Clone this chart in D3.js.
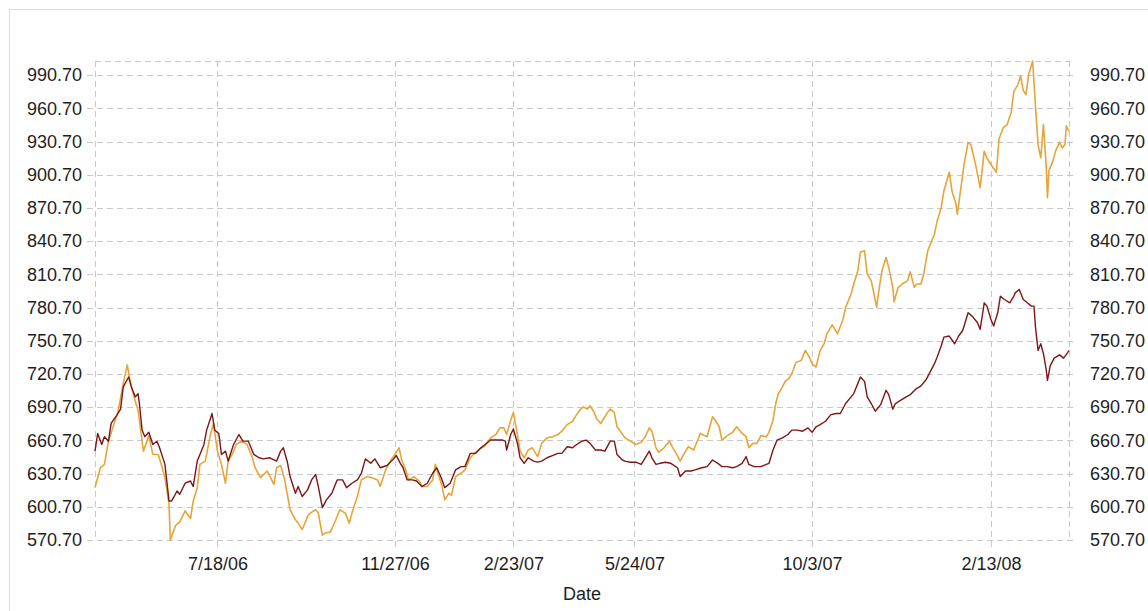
<!DOCTYPE html>
<html>
<head>
<meta charset="utf-8">
<script src="https://d3js.org/d3.v7.min.js"></script>
<style>
  body { margin: 0; background: #fff; }
  svg { display: block; }
</style>
</head>
<body>
<svg></svg>
<script>
// gold series (upper line at the end)
const goldDates = [
  "4/18/06","4/22/06","4/25/06","4/28/06","5/2/06","5/5/06","5/9/06","5/12/06","5/14/06","5/17/06",
  "5/20/06","5/24/06","5/28/06","5/31/06","6/4/06","6/7/06","6/9/06","6/12/06","6/13/06","6/17/06",
  "6/20/06","6/24/06","6/28/06","6/30/06","7/3/06","7/5/06","7/9/06","7/13/06","7/15/06","7/18/06",
  "7/21/06","7/24/06","7/26/06","7/29/06","8/1/06","8/5/06","8/9/06","8/13/06","8/15/06","8/19/06",
  "8/24/06","8/29/06","8/31/06","9/3/06","9/6/06","9/10/06","9/14/06","9/16/06","9/19/06","9/23/06",
  "9/25/06","9/29/06","10/1/06","10/4/06","10/6/06","10/10/06","10/14/06","10/17/06","10/21/06","10/24/06",
  "10/26/06","10/30/06","11/2/06","11/6/06","11/10/06","11/14/06","11/16/06","11/20/06","11/24/06","11/27/06",
  "11/30/06","12/2/06","12/5/06","12/7/06","12/11/06","12/15/06","12/17/06","12/21/06","12/25/06","12/27/06",
  "12/29/06","1/1/07","1/3/07","1/6/07","1/8/07","1/11/07","1/15/07","1/18/07","1/22/07","1/26/07",
  "1/29/07","2/2/07","2/6/07","2/10/07","2/13/07","2/16/07","2/18/07","2/21/07","2/23/07","2/26/07",
  "2/28/07","3/3/07","3/6/07","3/9/07","3/13/07","3/16/07","3/20/07","3/24/07","3/28/07","3/31/07",
  "4/4/07","4/8/07","4/11/07","4/14/07","4/16/07","4/19/07","4/21/07","4/24/07","4/26/07","4/29/07",
  "5/1/07","5/4/07","5/6/07","5/9/07","5/11/07","5/14/07","5/17/07","5/21/07","5/25/07","5/29/07",
  "6/1/07","6/4/07","6/6/07","6/9/07","6/11/07","6/15/07","6/19/07","6/21/07","6/24/07","6/27/07",
  "6/30/07","7/3/07","7/7/07","7/10/07","7/12/07","7/17/07","7/21/07","7/23/07","7/26/07","7/28/07",
  "8/1/07","8/5/07","8/8/07","8/12/07","8/15/07","8/17/07","8/20/07","8/23/07","8/26/07","8/30/07",
  "9/1/07","9/4/07","9/6/07","9/8/07","9/11/07","9/13/07","9/16/07","9/18/07","9/21/07","9/25/07",
  "9/28/07","10/1/07","10/3/07","10/6/07","10/9/07","10/12/07","10/14/07","10/18/07","10/22/07","10/26/07",
  "10/28/07","11/1/07","11/3/07","11/6/07","11/8/07","11/11/07","11/13/07","11/16/07","11/18/07","11/20/07",
  "11/22/07","11/24/07","11/27/07","11/29/07","12/2/07","12/3/07","12/6/07","12/9/07","12/13/07","12/15/07",
  "12/18/07","12/20/07","12/23/07","12/25/07","12/28/07","12/30/07","1/2/08","1/4/08","1/7/08","1/9/08",
  "1/13/08","1/15/08","1/18/08","1/19/08","1/22/08","1/24/08","1/27/08","1/29/08","2/1/08","2/3/08",
  "2/5/08","2/8/08","2/10/08","2/13/08","2/17/08","2/19/08","2/22/08","2/25/08","2/28/08","3/1/08",
  "3/4/08","3/6/08","3/8/08","3/10/08","3/12/08","3/15/08","3/17/08","3/19/08","3/21/08","3/23/08",
  "3/25/08","3/26/08","3/27/08","3/30/08","4/1/08","4/4/08","4/6/08","4/8/08","4/9/08","4/11/08"
];
const goldValues = [
  618,636,639,660,675,686,712,729,715,700,
  688,651,665,648,648,636,627,603,570.7,584,
  587,597,590,606,618,639,642,667,676,651,
  639,622,642,648,657,660,657,645,636,627,
  633,621,636,638,625,598,589,586,580,592,
  595,598,595,575,577,578,589,598,595,586,
  595,610,625,628,627,625,619,634,643,648,
  654,643,634,625,628,624,619,619,625,639,
  631,619,607,613,611,628,631,634,645,650,
  653,656,663,666,672,672,666,679,686,666,
  651,645,652,654,646,658,663,664,666,669,
  675,678,684,689,691,689,692,686,680,676,
  680,686,689,686,673,668,663,660,657,659,
  664,672,669,654,650,654,660,655,649,642,
  649,655,652,661,667,664,682,679,673,661,
  665,668,673,667,664,654,658,658,665,664,
  668,679,694,703,709,714,717,721,731,733,
  742,736,730,727,742,748,757,765,757,770,
  781,793,802,814,831,832,811,805,793,781,
  799,814,826,817,799,786,799,802,805,813,
  799,802,802,811,832,838,847,859,871,886,
  903,886,874,865,892,910,930,928,913,901,
  889,922,916,910,903,933,943,946,957,976,
  982,990,977,973,991,1003.5,964,928,916,946,
  910,880,904,913,922,930,925,928,945,940
];

// dark red series (lower line at the end)
const redDates = [
  "4/18/06","4/20/06","4/23/06","4/25/06","4/28/06","4/30/06","5/4/06","5/7/06","5/9/06","5/13/06",
  "5/15/06","5/18/06","5/20/06","5/21/06","5/23/06","5/25/06","5/28/06","5/31/06","6/3/06","6/5/06",
  "6/9/06","6/12/06","6/14/06","6/18/06","6/20/06","6/24/06","6/28/06","6/30/06","7/3/06","7/5/06",
  "7/8/06","7/10/06","7/14/06","7/16/06","7/19/06","7/21/06","7/24/06","7/26/06","7/30/06","8/3/06",
  "8/6/06","8/10/06","8/14/06","8/18/06","8/21/06","8/26/06","8/31/06","9/3/06","9/5/06","9/8/06",
  "9/10/06","9/14/06","9/16/06","9/19/06","9/23/06","9/26/06","9/29/06","10/1/06","10/4/06","10/7/06",
  "10/11/06","10/15/06","10/19/06","10/22/06","10/26/06","10/30/06","11/2/06","11/5/06","11/9/06","11/12/06",
  "11/16/06","11/21/06","11/26/06","11/28/06","12/1/06","12/3/06","12/6/06","12/10/06","12/13/06","12/17/06",
  "12/21/06","12/25/06","12/28/06","12/31/06","1/3/07","1/7/07","1/11/07","1/15/07","1/18/07","1/22/07",
  "1/26/07","1/29/07","2/2/07","2/6/07","2/10/07","2/15/07","2/17/07","2/18/07","2/21/07","2/23/07",
  "2/26/07","2/28/07","3/3/07","3/6/07","3/10/07","3/13/07","3/16/07","3/20/07","3/24/07","3/28/07",
  "3/31/07","4/4/07","4/8/07","4/11/07","4/15/07","4/18/07","4/21/07","4/25/07","4/29/07","5/2/07",
  "5/6/07","5/9/07","5/11/07","5/15/07","5/17/07","5/21/07","5/25/07","5/29/07","6/1/07","6/4/07",
  "6/6/07","6/9/07","6/12/07","6/16/07","6/20/07","6/25/07","6/27/07","7/1/07","7/5/07","7/8/07",
  "7/13/07","7/17/07","7/21/07","7/25/07","7/28/07","8/1/07","8/5/07","8/8/07","8/12/07","8/15/07",
  "8/17/07","8/21/07","8/26/07","8/30/07","9/1/07","9/4/07","9/7/07","9/11/07","9/15/07","9/18/07",
  "9/22/07","9/26/07","9/30/07","10/3/07","10/6/07","10/9/07","10/13/07","10/17/07","10/21/07","10/24/07",
  "10/28/07","11/1/07","11/3/07","11/6/07","11/8/07","11/11/07","11/13/07","11/16/07","11/19/07","11/23/07",
  "11/27/07","11/29/07","12/2/07","12/4/07","12/8/07","12/12/07","12/15/07","12/19/07","12/23/07","12/27/07",
  "12/30/07","1/2/08","1/4/08","1/7/08","1/9/08","1/13/08","1/17/08","1/20/08","1/23/08","1/27/08",
  "1/30/08","2/3/08","2/5/08","2/8/08","2/10/08","2/13/08","2/15/08","2/18/08","2/20/08","2/23/08",
  "2/27/08","3/1/08","3/2/08","3/5/08","3/8/08","3/11/08","3/14/08","3/16/08","3/17/08","3/19/08",
  "3/21/08","3/23/08","3/25/08","3/26/08","3/28/08","3/31/08","4/4/08","4/7/08","4/10/08","4/11/08"
];
const redValues = [
  651,667,657,664,660,676,683,689,709,718,
  709,700,703,694,670,664,668,657,660,654,
  639,606,606,615,612,622,624,619,642,648,
  657,670,685,670,667,648,651,642,657,666,
  660,660,648,645,644,645,642,651,654,641,
  628,613,619,610,616,625,630,619,600,607,
  613,625,625,618,622,625,631,644,640,644,
  636,638,644,647,640,636,625,625,624,619,
  622,631,636,628,618,622,634,637,637,649,
  649,653,657,661,661,661,660,652,666,671,
  658,645,640,645,642,641,642,645,647,649,
  649,655,654,657,660,661,658,652,652,651,
  660,660,648,643,642,641,641,639,645,651,
  645,639,640,641,640,636,628,633,633,634,
  636,637,643,640,637,637,636,637,640,646,
  639,637,637,639,640,652,661,663,666,670,
  670,669,672,668,673,675,678,684,685,685,
  694,700,703,712,718,714,700,694,687,693,
  706,702,689,694,697,700,702,707,710,716,
  723,730,736,746,754,755,748,755,760,776,
  773,767,761,785,782,770,764,776,791,788,
  785,791,794,797,788,785,782,782,764,742,
  748,739,725,715,728,735,738,735,740,742
];

const xTickDates = ["7/18/06", "11/27/06", "2/23/07", "5/24/07", "10/3/07", "2/13/08"];
const yTickValues = [570.7, 600.7, 630.7, 660.7, 690.7, 720.7, 750.7, 780.7, 810.7,
                     840.7, 870.7, 900.7, 930.7, 960.7, 990.7];

const parseDate = d3.timeParse("%m/%d/%y");
const gold = goldDates.map(function(d, i) { return { date: parseDate(d), value: goldValues[i] }; });
const red = redDates.map(function(d, i) { return { date: parseDate(d), value: redValues[i] }; });
const all = gold.concat(red);

const svgWidth = 1148, svgHeight = 611;
const margin = { top: 61, right: 79, bottom: 71, left: 95 };
const width = svgWidth - margin.left - margin.right;
const height = svgHeight - margin.top - margin.bottom;
const font = "'Liberation Sans', Arial, sans-serif";
const gridColor = "#c9c9c9";

const svg = d3.select("svg")
    .attr("width", svgWidth)
    .attr("height", svgHeight);

// outer frame
svg.append("rect")
    .attr("x", 9.5).attr("y", 9.5)
    .attr("width", 1200).attr("height", 700)
    .attr("fill", "none")
    .attr("stroke", "#dcdcdc");

const xScale = d3.scaleTime()
    .domain(d3.extent(all, function(d) { return d.date; }))
    .range([0, width]);
const yScale = d3.scaleLinear()
    .domain(d3.extent(all, function(d) { return d.value; }))
    .range([height, 0]);

const g = svg.append("g")
    .attr("transform", "translate(" + margin.left + "," + margin.top + ")");

// horizontal grid, sticking out 8px on both sides
g.append("g")
    .attr("transform", "translate(-8,0)")
    .call(d3.axisLeft(yScale).tickValues(yTickValues).tickSize(-(width + 16)).tickFormat(""))
    .call(function(a) { a.select(".domain").remove(); });

// vertical grid, sticking out 7px below
g.append("g")
    .attr("transform", "translate(0," + (height + 7) + ")")
    .call(d3.axisBottom(xScale).tickValues(xTickDates.map(parseDate)).tickSize(-(height + 7)).tickFormat(""))
    .call(function(a) { a.select(".domain").remove(); });

// plot frame edges (dashed like the grid)
g.append("line").attr("x1", 0).attr("x2", width).attr("y1", 0).attr("y2", 0);
g.append("line").attr("x1", 0).attr("x2", 0).attr("y1", 0).attr("y2", height);
g.append("line").attr("x1", width).attr("x2", width).attr("y1", 0).attr("y2", height);

g.selectAll("line")
    .attr("stroke", gridColor)
    .attr("stroke-width", 1)
    .attr("stroke-dasharray", "6,4")
    .attr("shape-rendering", "crispEdges");

// tick labels
function styleAxis(a) {
  a.select(".domain").remove();
  a.attr("font-family", font).attr("font-size", 18);
  a.selectAll("text").attr("fill", "#1e1e1e");
}

g.append("g")
    .call(d3.axisLeft(yScale).tickValues(yTickValues).tickFormat(d3.format(".2f")).tickSize(0).tickPadding(13))
    .call(styleAxis);

g.append("g")
    .attr("transform", "translate(" + width + ",0)")
    .call(d3.axisRight(yScale).tickValues(yTickValues).tickFormat(d3.format(".2f")).tickSize(0).tickPadding(21))
    .call(styleAxis);

g.append("g")
    .attr("transform", "translate(0," + height + ")")
    .call(d3.axisBottom(xScale).tickValues(xTickDates.map(parseDate))
        .tickFormat(d3.timeFormat("%-m/%-d/%y")).tickSize(0).tickPadding(17))
    .call(styleAxis);

g.append("text")
    .attr("x", width / 2)
    .attr("y", height + 60)
    .attr("text-anchor", "middle")
    .attr("font-family", font)
    .attr("font-size", 18)
    .attr("fill", "#1e1e1e")
    .text("Date");

const line = d3.line()
    .x(function(d) { return xScale(d.date); })
    .y(function(d) { return yScale(d.value); });

g.append("path")
    .datum(gold)
    .attr("fill", "none")
    .attr("stroke", "#e6a53a")
    .attr("stroke-width", 1.6)
    .attr("stroke-linejoin", "round")
    .attr("d", line);

g.append("path")
    .datum(red)
    .attr("fill", "none")
    .attr("stroke", "#7c1616")
    .attr("stroke-width", 1.4)
    .attr("stroke-linejoin", "round")
    .attr("d", line);
</script>
</body>
</html>
